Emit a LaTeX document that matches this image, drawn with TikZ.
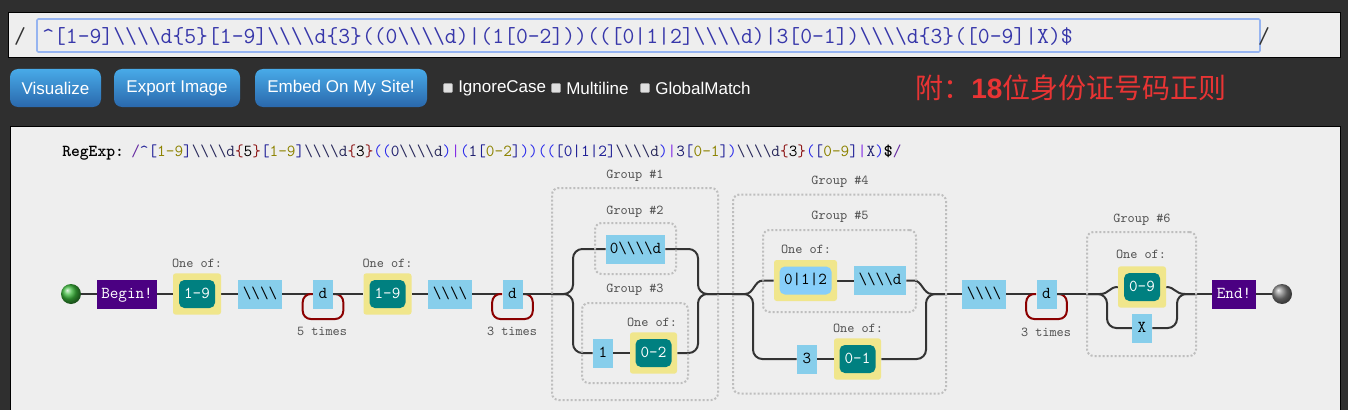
\documentclass[tikz,border=0pt]{standalone}
\usepackage{fontspec}
\usetikzlibrary{calc,backgrounds}
\newfontfamily\cjk{Noto Sans CJK SC}
\newfontfamily\lsans{Liberation Sans}
\definecolor{bgdark}{RGB}{47,47,47}
\definecolor{panel}{RGB}{238,238,238}
\definecolor{fieldblue}{RGB}{150,180,240}
\definecolor{topblue}{RGB}{55,55,170}
\definecolor{btntop}{RGB}{72,170,232}
\definecolor{btnbot}{RGB}{42,104,172}
\definecolor{cjkred}{RGB}{232,52,52}
\definecolor{litblue}{RGB}{135,206,235}
\definecolor{skyl}{RGB}{135,206,250}
\definecolor{khaki}{RGB}{240,230,140}
\definecolor{tealc}{RGB}{0,128,128}
\definecolor{indig}{RGB}{75,0,130}
\definecolor{loopred}{RGB}{139,0,0}
\definecolor{lineg}{RGB}{51,51,51}
\definecolor{grpg}{RGB}{190,190,190}
\definecolor{lblg}{RGB}{80,80,80}
\definecolor{ballg}{RGB}{60,185,60}
\definecolor{cSl}{RGB}{100,40,160}
\definecolor{cBr}{RGB}{30,30,150}
\definecolor{cRg}{RGB}{140,130,0}
\definecolor{cEsc}{RGB}{40,40,90}
\definecolor{cQb}{RGB}{140,20,20}
\definecolor{cPa}{RGB}{40,40,235}
\definecolor{cAl}{RGB}{130,40,230}
\definecolor{cLi}{RGB}{30,30,110}
\newcommand\bsl{\textbackslash}
\newcommand\fourbs{\bsl\bsl\bsl\bsl}
\newcommand\Br[1]{\textcolor{cBr}{#1}}
\newcommand\Rg[1]{\textcolor{cRg}{#1}}
\newcommand\Es{\textcolor{cEsc}{\fourbs d}}
\newcommand\Qt[1]{\textcolor{cQb}{\{}\textcolor{black}{#1}\textcolor{cQb}{\}}}
\newcommand\Pa[1]{\textcolor{cPa}{#1}}
\newcommand\Al{\textcolor{cAl}{|}}
\newcommand\Li[1]{\textcolor{cLi}{#1}}
\newcommand\fTop{\ttfamily\fontsize{17.25pt}{20pt}\selectfont}
\newcommand\fRx{\ttfamily\fontsize{12.6pt}{14pt}\selectfont}
\newcommand\fLbl{\ttfamily\fontsize{10.2pt}{12pt}\selectfont}
\newcommand\fBox{\ttfamily\fontsize{12.5pt}{14pt}\selectfont}
\newcommand\fBtn{\lsans\fontsize{12.75pt}{14pt}\selectfont}
\newcommand\fCjk{\cjk\fontsize{21pt}{24pt}\selectfont}
\begin{document}
\begin{tikzpicture}[x=0.75pt,y=-0.75pt,
  conn/.style={draw=lineg, line width=1.5pt},
  brc/.style={conn, rounded corners=7pt},
  lp/.style={draw=loopred, line width=1.5pt, rounded corners=6pt},
  lit/.style={fill=litblue, inner sep=0pt, minimum height=21.75pt, font=\fBox, text height=8pt, text depth=2pt},
  term/.style={fill=indig, text=white, inner sep=0pt, minimum height=21.75pt, font=\fBox, text height=8pt, text depth=2pt},
  cset/.style={fill=khaki, rounded corners=2pt, minimum width=36pt, minimum height=31pt, inner sep=0pt},
  rng/.style={fill=tealc, text=white, rounded corners=4pt, minimum width=27pt, minimum height=21pt, inner sep=0pt, font=\fBox, text height=8pt, text depth=2pt},
  rngl/.style={rng, fill=skyl, text=black, minimum width=39pt},
  grp/.style={draw=grpg, line width=1.5pt, dash pattern=on 1.5pt off 1.5pt, rounded corners=5pt, inner sep=0pt, minimum width=#1},
  lbl/.style={font=\fLbl, text=lblg, inner sep=0pt},
  ballnode/.style={circle, minimum size=15pt, inner sep=0pt},
  btn/.style={rounded corners=6pt, top color=btntop, bottom color=btnbot, text=white, font=\fBtn, minimum height=28.5pt, inner sep=0pt},
  chk/.style={fill=black!12, draw=black!40, line width=0.4pt, minimum size=7pt, inner sep=0pt, rounded corners=1pt},
  cht/.style={text=white, font=\fBtn, anchor=west, inner sep=0pt}
]
\useasboundingbox (0,0) rectangle (1348,410);
\begin{scope}[on background layer]
  \fill[bgdark] (0,0) rectangle (1348,410);
  \draw[fill=panel, draw=black, line width=0.75pt] (8,13) rectangle (1340,58);
  \draw[fill=panel, draw=fieldblue, line width=1.2pt, rounded corners=1pt] (37,19) rectangle (1260,52);
  \draw[fill=panel, draw=black, line width=0.75pt] (10,126) rectangle (1340,412);
\end{scope}

% top bar
\node[anchor=base, text=black!80, font=\fTop, inner sep=0pt] (sl1) at (20,44) {/};
\node[anchor=base west, text=topblue, font=\fTop, inner sep=0pt] (rx) at (42,44)
  {\textasciicircum[1-9]\fourbs d\{5\}[1-9]\fourbs d\{3\}((0\fourbs d)|(1[0-2]))(([0|1|2]\fourbs d)|3[0-1])\fourbs d\{3\}([0-9]|X)\$};
\node[anchor=base, text=black!80, font=\fTop, inner sep=0pt] (sl2) at (1264,44) {/};

% buttons
\node[btn, minimum width=68.25pt] (vis) at (55.5,88) {Visualize};
\node[btn, minimum width=94.5pt] (exp) at (177,88) {Export Image};
\node[btn, minimum width=129pt] (emb) at (341,88) {Embed On My Site!};
\node[chk] (c1) at (448,88) {};
\node[cht] (t1) at (458,88) {IgnoreCase};
\node[chk] (c2) at (556,88) {};
\node[cht] (t2) at (566,88) {Multiline};
\node[chk] (c3) at (645,88) {};
\node[cht] (t3) at (655,88) {GlobalMatch};
\node[anchor=west, text=cjkred, inner sep=0pt, font=\fCjk] (note) at (915,88) {附：{\lsans\bfseries 18}位身份证号码正则};

% regexp line
\node[anchor=base west, inner sep=0pt, font=\fRx\bfseries] (rl) at (62,156) {RegExp:};
\node[anchor=base west, inner sep=0pt, font=\fRx] (rr) at (131,156)
  {\textcolor{cSl}{/}\Br{\textasciicircum[}\Rg{1-9}\Br{]}\Es\Qt{5}\Br{[}\Rg{1-9}\Br{]}\Es\Qt{3}\Pa{((}\Li{0}\Es\Pa{)}\Al\Pa{(}\Li{1}\Br{[}\Rg{0-2}\Br{]}\Pa{))}\Pa{((}\Br{[0|1|2]}\Es\Pa{)}\Al\Li{3}\Br{[}\Rg{0-1}\Br{]}\Pa{)}\Es\Qt{3}\Pa{(}\Br{[}\Rg{0-9}\Br{]}\Al\Li{X}\Pa{)}\textbf{\$}\textcolor{cSl}{/}};

% groups
\node[grp=124.5pt, minimum height=159pt] (g1) at (635,294) {};
\node[lbl] (g1t) at (635,176) {Group \#1};
\node[grp=60.75pt, minimum height=38.25pt] (g2) at (635.5,248.5) {};
\node[lbl] (g2t) at (635,212) {Group \#2};
\node[grp=79.5pt, minimum height=60pt] (g3) at (635,343) {};
\node[lbl] (g3t) at (635,290) {Group \#3};
\node[grp=159.75pt, minimum height=149.25pt] (g4) at (839.5,294) {};
\node[lbl] (g4t) at (840,182) {Group \#4};
\node[grp=114.75pt, minimum height=61.5pt] (g5) at (839.5,271) {};
\node[lbl] (g5t) at (840,217) {Group \#5};
\node[grp=81.75pt, minimum height=93pt] (g6) at (1141.5,294) {};
\node[lbl] (g6t) at (1142,220) {Group \#6};

% main sequence
\node[ballnode, ball color=ballg] (start) at (71,294) {};
\node[term, minimum width=45pt] (begin) at (127,294) {Begin!};
\node[cset] (y1) at (197,294) {};
\node[rng] (r1) at (197,294) {1-9};
\node[lbl] (o1) at (197,263) {One of:};
\node[lit, minimum width=33pt] (l1) at (260,294) {\fourbs};
\node[lit, minimum width=15pt] (d1) at (323,294) {d};
\node[lbl] (q1) at (322,331) {5 times};
\node[cset] (y2) at (387.5,294) {};
\node[rng] (r2) at (387.5,294) {1-9};
\node[lbl] (o2) at (387.5,263) {One of:};
\node[lit, minimum width=33pt] (l2) at (450,294) {\fourbs};
\node[lit, minimum width=15pt] (d2) at (512.5,294) {d};
\node[lbl] (q2) at (512,331) {3 times};
% group 1 content
\node[lit, minimum width=44.25pt] (b0d) at (635.5,249) {0\fourbs d};
\node[lit, minimum width=15pt] (one) at (603,353) {1};
\node[cset, minimum width=35.25pt] (y3) at (653.5,353) {};
\node[rng] (r3) at (653.5,353) {0-2};
\node[lbl] (o3) at (652,322) {One of:};
% group 4 content
\node[cset, minimum width=47.25pt, minimum height=30.75pt] (y5) at (805.5,280.5) {};
\node[rngl] (r5) at (805.5,280.5) {0|1|2};
\node[lbl] (o5) at (806,249) {One of:};
\node[lit, minimum width=39pt] (l5) at (880,280.5) {\fourbs d};
\node[lit, minimum width=15pt] (three) at (807,359) {3};
\node[cset, minimum width=35.25pt] (y6) at (857.5,359) {};
\node[rng] (r6) at (857.5,359) {0-1};
\node[lbl] (o6) at (858,328) {One of:};
% tail
\node[lit, minimum width=33pt] (l7) at (984,294) {\fourbs};
\node[lit, minimum width=15pt] (d3) at (1046.5,294) {d};
\node[lbl] (q3) at (1046,332) {3 times};
\node[cset] (y7) at (1142,287) {};
\node[rng] (r7) at (1142,287) {0-9};
\node[lbl] (o7) at (1141,254) {One of:};
\node[lit, minimum width=15pt] (xx) at (1142,328) {X};
\node[term, minimum width=33pt] (endn) at (1234,294) {End!};
\node[ballnode, ball color=gray] (stop) at (1282,294) {};

\begin{scope}[on background layer]
  \draw[conn] (start) -- (begin);
  \draw[conn] (begin) -- (y1);
  \draw[conn] (y1) -- (l1);
  \draw[conn] (l1) -- (d1);
  \draw[lp] (d1.west) -| ($(d1.west)+(-10,25)$) -| ($(d1.east)+(10,0)$) -- (d1.east);
  \draw[conn] (d1) -- (y2);
  \draw[conn] (y2) -- (l2);
  \draw[conn] (l2) -- (d2);
  \draw[lp] (d2.west) -| ($(d2.west)+(-10,25)$) -| ($(d2.east)+(10,0)$) -- (d2.east);
  \draw[conn] (d2) -- (g1.west);
  % group 1
  \draw[brc] (g1.west) -| (573,249) -- (b0d.west);
  \draw[brc] (b0d.east) -| (698,294) -- (g1.east);
  \draw[brc] (g1.west) -| (573,353) -- (one.west);
  \draw[conn] (one) -- (y3);
  \draw[brc] (y3.east) -| (698,294) -- (g1.east);
  \draw[conn] (g1.east) -- (g4.west);
  % group 4
  \draw[conn] (g4.west) -- (745,294) .. controls (754,294) and (754,280.5) .. (763,280.5) -- (y5.west);
  \draw[conn] (y5) -- (l5);
  \draw[conn] (l5.east) -- (914,280.5) .. controls (922,280.5) and (923,294) .. (932,294) -- (g4.east);
  \draw[brc] (g4.west) -| (753,359) -- (three.west);
  \draw[conn] (three) -- (y6);
  \draw[brc] (y6.east) -| (926,294) -- (g4.east);
  \draw[conn] (g4.east) -- (l7);
  \draw[conn] (l7) -- (d3);
  \draw[lp] (d3.west) -| ($(d3.west)+(-10,25)$) -| ($(d3.east)+(10,0)$) -- (d3.east);
  \draw[conn] (d3) -- (g6.west);
  % group 6
  \draw[conn] (g6.west) -- (1100,294) .. controls (1109,294) and (1109,287) .. (y7.west);
  \draw[brc] (g6.west) -| (1107,328) -- (xx.west);
  \draw[conn] (y7.east) .. controls (1175,287) and (1175,294) .. (1185,294) -- (g6.east);
  \draw[brc] (xx.east) -| (1177,294) -- (g6.east);
  \draw[conn] (g6.east) -- (endn);
  \draw[conn] (endn) -- (stop);
\end{scope}
\end{tikzpicture}
\end{document}
